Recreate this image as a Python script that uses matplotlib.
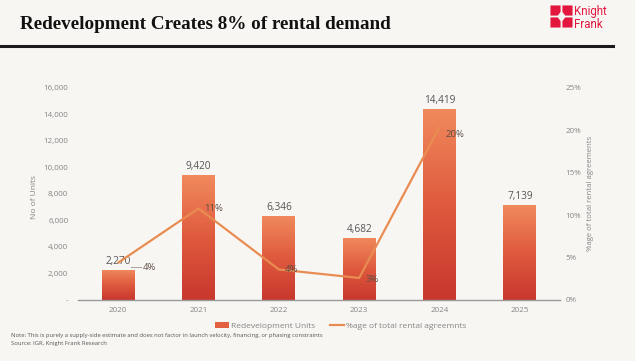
import matplotlib
matplotlib.use("Agg")
import matplotlib.pyplot as plt
import numpy as np
from matplotlib.colors import LinearSegmentedColormap
from matplotlib.lines import Line2D
from matplotlib.patches import Patch, Polygon

# ---- data ----
years = ["2020", "2021", "2022", "2023", "2024", "2025"]
units = [2270, 9420, 6346, 4682, 14419, 7139]
pct_years = ["2020", "2021", "2022", "2023", "2024"]
pct = [4.4, 10.8, 3.6, 2.6, 20.4]
left_ticks = [0, 2000, 4000, 6000, 8000, 10000, 12000, 14000, 16000]
right_ticks = [0, 5, 10, 15, 20, 25]

title = "Redevelopment Creates 8% of rental demand"
note = ("Note: This is purely a supply-side estimate and does not factor in launch velocity, "
        "financing, or phasing constraints")
source = "Source: IGR, Knight Frank Research"

BG = "#f8f6f3"
GREY = "#858585"
KF_RED = "#e3173e"
SANS = ["Open Sans", "DejaVu Sans"]

W, H = 635, 361
fig = plt.figure(figsize=(W / 100, H / 100), dpi=100, facecolor=BG)

def fx(px):
    return px / W

def fy(py):
    return 1 - py / H

# ---- main axes ----
ax = fig.add_axes([fx(78), fy(300), (560 - 78) / W, (300 - 88) / H])
ax.set_facecolor("none")
x = np.arange(len(years))
bars = ax.bar(x, units, width=0.41, color="none", edgecolor="none", zorder=2)
cmap = LinearSegmentedColormap.from_list("g", ["#c8372d", "#df5a3e", "#f18a5c"])
grad = np.linspace(0, 1, 256).reshape(-1, 1)
for b in bars:
    x0, w, h = b.get_x(), b.get_width(), b.get_height()
    im = ax.imshow(grad, extent=[x0, x0 + w, 0, h], origin="lower", cmap=cmap,
                   aspect="auto", zorder=2, interpolation="bicubic")
    im.set_clip_path(b)
ax.set_xlim(-0.5, len(years) - 0.5)
ax.set_ylim(0, 16000)
ax.set_xticks(x)
ax.set_xticklabels(years, fontsize=5.8, color=GREY, family=SANS)
ax.set_yticks(left_ticks)
ax.set_yticklabels(["-" if t == 0 else f"{t:,}" for t in left_ticks],
                   fontsize=5.8, color=GREY, family=SANS)
ax.tick_params(axis="both", length=0)
ax.tick_params(axis="y", pad=7)
ax.tick_params(axis="x", pad=5)
for s in ["top", "left", "right"]:
    ax.spines[s].set_visible(False)
ax.spines["bottom"].set_color("#9a9a9a")
ax.spines["bottom"].set_linewidth(1.0)

for xi, v in zip(x, units):
    ax.annotate(f"{v:,}", (xi, v), xytext=(0, 3), textcoords="offset pixels",
                ha="center", va="bottom", fontsize=7.2, color="#555555", family=SANS)

# ---- secondary axis ----
ax2 = ax.twinx()
ax2.set_ylim(0, 25)
ax2.set_yticks(right_ticks)
ax2.set_yticklabels([f"{t}%" for t in right_ticks], fontsize=5.8, color=GREY, family=SANS)
ax2.tick_params(axis="y", length=0, pad=4)
for s in ["top", "left", "right", "bottom"]:
    ax2.spines[s].set_visible(False)
px = [years.index(y) for y in pct_years]
ax2.plot(px, pct, color="#e98c52", lw=1.6, zorder=3, solid_capstyle="round")

offsets = [(25, -5), (6, 0), (6, 0), (6, -2), (6, -7)]
for xi, v, off in zip(px, pct, offsets):
    ax2.annotate(f"{v:.0f}%", (xi, v), xytext=off, textcoords="offset pixels",
                 ha="left", va="center", fontsize=6.8, color="#5e4e46", family=SANS)
# short leader for first label
fig.add_artist(Line2D([fx(131), fx(141)], [fy(267), fy(267)], color="#b0a8a0", lw=0.8))

# axis titles
fig.text(fx(35), fy(197), "No of Units", rotation=90, ha="center", va="center",
         fontsize=6, color=GREY, family=SANS)
fig.text(fx(590), fy(193), "%age of total rental agreements", rotation=90,
         ha="center", va="center", fontsize=5.6, color=GREY, family=SANS)

# legend
handles = [Patch(facecolor="#e2623f", edgecolor="none"),
           Line2D([0], [0], color="#e98c52", lw=1.6)]
fig.legend(handles, ["Redevelopment Units", "%age of total rental agreemnts"],
           loc="center", bbox_to_anchor=(fx(341), fy(326)), ncol=2, frameon=False,
           prop={"family": SANS, "size": 6}, labelcolor=GREY,
           handlelength=1.6, handleheight=0.6, handletextpad=0.3, columnspacing=1.8)

# notes
fig.text(fx(11), fy(336), note, fontsize=4.2, color="#555555", va="center", family=SANS)
fig.text(fx(11), fy(343), source, fontsize=4.2, color="#555555", va="center", family=SANS)

# title, fitted to width
t = fig.text(fx(20), fy(29), title, fontsize=15, fontweight="bold",
             family=["Liberation Serif", "DejaVu Serif"], color="#111111", va="baseline")
fig.canvas.draw()
bb = t.get_window_extent()
t.set_fontsize(15 * 372 / bb.width)

# rule
fig.add_artist(Line2D([0, fx(613)], [fy(46), fy(46)], color="#1a1a1a", lw=2.2))

# logo
lax = fig.add_axes([fx(550), fy(28), 23 / W, 23 / H])
lax.set_xlim(0, 1)
lax.set_ylim(0, 1)
lax.axis("off")
quad = np.array([(0.02, 0.02), (0.46, 0.02), (0.46, 0.30), (0.34, 0.46), (0.02, 0.46)])
for sx, sy in [(1, 1), (-1, 1), (1, -1), (-1, -1)]:
    pts = quad.copy()
    if sx < 0:
        pts[:, 0] = 1 - pts[:, 0]
    if sy < 0:
        pts[:, 1] = 1 - pts[:, 1]
    lax.add_patch(Polygon(pts, closed=True, facecolor=KF_RED, edgecolor="none"))
fig.text(fx(574), fy(12), "Knight", fontsize=8.3, color=KF_RED, va="center",
         family=["Roboto", "DejaVu Sans"])
fig.text(fx(574), fy(24), "Frank", fontsize=8.3, color=KF_RED, va="center",
         family=["Roboto", "DejaVu Sans"])

fig.savefig("out.png", dpi=100, facecolor=BG)
